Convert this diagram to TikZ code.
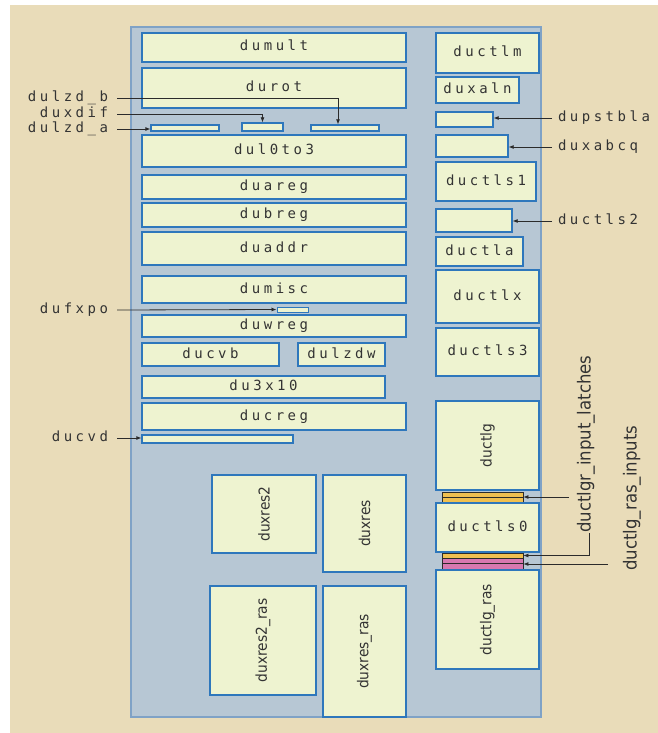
\documentclass[tikz,border=0pt]{standalone}
\usepackage{fontspec}
\usepackage{xcolor}
\usepackage{tikz}
\usetikzlibrary{arrows.meta}
\newfontfamily\blkfont[LetterSpace=25]{DejaVu Sans Mono}
\newfontfamily\rotfont[FakeStretch=0.92]{DejaVu Sans}
\definecolor{tanbg}{HTML}{E9DCB9}
\definecolor{panelfill}{HTML}{B7C7D4}
\definecolor{panelline}{HTML}{7FA2C6}
\definecolor{blkfill}{HTML}{EEF3D0}
\definecolor{blkline}{HTML}{2E77BC}
\definecolor{txtgray}{HTML}{333333}
\definecolor{latchor}{HTML}{F0C050}
\definecolor{raspk}{HTML}{D878B0}
\definecolor{leader}{HTML}{2B2B2B}

\begin{document}
\begin{tikzpicture}[
x=1pt, y=-1pt,
cell/.style n args={4}{minimum width={(#3-#1)*1pt}, minimum height={(#4-#2)*1pt},
  at={({(#1+#3)/2},{(#2+#4)/2})}},
bar/.style={draw=blkline, fill=blkfill, line width=1.3pt, inner sep=0pt},
blk/.style={bar, text=txtgray, font=\blkfont\fontsize{14}{14}\selectfont,
  text height=10pt, text depth=3pt},
rot/.style={bar, text=txtgray, font=\rotfont\fontsize{15}{15}\selectfont},
latch/.style={draw=leader, line width=0.8pt, inner sep=0pt},
lbl/.style={inner sep=0pt, text=txtgray, font=\blkfont\fontsize{14}{14}\selectfont,
  text height=10pt, text depth=3pt},
lleft/.style={lbl, anchor=east, outer xsep=9pt},
lright/.style={lbl, anchor=west, outer xsep=6pt},
lrot/.style={inner sep=0pt, text=txtgray, font=\rotfont\fontsize{18}{18}\selectfont,
  rotate=90, anchor=west},
arr/.style={-{Latex[length=5pt,width=4pt]}, draw=leader, line width=0.8pt}
]
\useasboundingbox (0,0) rectangle (658,733);
\fill[tanbg] (10,5) rectangle (658,733);
% chip outline
\filldraw[fill=panelfill, draw=panelline, line width=2pt] (131,27) rectangle (541,717);

% left column
\node[blk, cell={142}{33}{406}{62}] (dumult) {dumult};
\node[blk, cell={142}{68}{406}{108}] (durot) {durot};
\node[bar, cell={151}{125}{219}{131}] (dulzda) {};
\node[bar, cell={242}{123}{283}{131}] (duxdif) {};
\node[bar, cell={311}{125}{379}{131}] (dulzdb) {};
\node[blk, cell={142}{135}{406}{167}] (dul0to3) {dul0to3};
\node[blk, cell={142}{175}{406}{199}] (duareg) {duareg};
\node[blk, cell={142}{203}{406}{227}] (dubreg) {dubreg};
\node[blk, cell={142}{232}{406}{265}] (duaddr) {duaddr};
\node[blk, cell={142}{276}{406}{303}] (dumisc) {dumisc};
\node[bar, line width=1pt, cell={277}{307}{308}{312}] (dufxpo) {};
\node[blk, cell={142}{315}{406}{337}] (duwreg) {duwreg};
\node[blk, cell={142}{343}{279}{366}] (ducvb) {ducvb};
\node[blk, cell={298}{343}{385}{366}] (dulzdw) {dulzdw};
\node[blk, cell={142}{376}{385}{398}] (du3x10) {du3x10};
\node[blk, cell={142}{403}{406}{430}] (ducreg) {ducreg};
\node[bar, cell={142}{435}{293}{443}] (ducvd) {};
\node[rot, cell={212}{475}{316}{553}] (duxres2) {\rotatebox{90}{duxres2}};
\node[rot, cell={323}{475}{406}{572}] (duxres) {\rotatebox{90}{duxres}};
\node[rot, cell={210}{586}{316}{695}] (duxres2ras) {\rotatebox{90}{duxres2\_ras}};
\node[rot, cell={323}{586}{406}{717}] (duxresras) {\rotatebox{90}{duxres\_ras}};

% right column
\node[blk, cell={436}{33}{539}{73}] (ductlm) {ductlm};
\node[blk, cell={436}{77}{519}{103}] (duxaln) {duxaln};
\node[bar, cell={436}{112}{493}{127}] (dupstbla) {};
\node[bar, cell={436}{135}{508}{157}] (duxabcq) {};
\node[blk, cell={436}{162}{536}{201}] (ductls1) {ductls1};
\node[bar, cell={436}{209}{512}{232}] (ductls2) {};
\node[blk, cell={436}{237}{523}{266}] (ductla) {ductla};
\node[blk, cell={436}{270}{539}{323}] (ductlx) {ductlx};
\node[blk, cell={436}{328}{539}{376}] (ductls3) {ductls3};
\node[rot, cell={436}{401}{539}{490}] (ductlg) {\rotatebox{90}{ductlg}};
\node[latch, fill=latchor, cell={442}{492}{523}{502}] (grlatch) {};
\draw[leader, line width=0.8pt] (grlatch.west) -- (grlatch.east);
\node[blk, cell={436}{503}{539}{552}] (ductls0) {ductls0};
\node[latch, fill=latchor, cell={442}{553}{523}{558}] (rasor) {};
\node[latch, fill=raspk, cell={442}{558}{523}{569}] (raspink) {};
\draw[leader, line width=0.8pt] (raspink.west) -- (raspink.east);
\node[rot, cell={436}{570}{539}{669}] (ductlgras) {\rotatebox{90}{ductlg\_ras}};

% labels left
\node[lleft] at (117,98) (lbzdb) {dulzd\_b};
\node[lleft] at (117,114) (lbxdif) {duxdif};
\node[lleft] at (117,129) (lbzda) {dulzd\_a};
\node[lleft] at (117,310) (lbfxpo) {dufxpo};
\node[lleft] at (117,438) (lbcvd) {ducvd};
\draw[arr] (lbzdb.east) -| ([xshift=-7pt]dulzdb.north);
\draw[arr] (lbxdif.east) -| (duxdif.north);
\draw[arr] (lbzda.east) -- (lbzda.east -| dulzda.west);
\draw[arr] (lbfxpo.east) -- (dufxpo.west);
\draw[arr] (lbcvd.east) -- (lbcvd.east -| ducvd.west);

% labels right
\node[lright] at (552,118) (lbpstbla) {dupstbla};
\node[lright] at (552,147) (lbxabcq) {duxabcq};
\node[lright] at (552,221) (lbtls2) {ductls2};
\draw[arr] (lbpstbla.west) -- (lbpstbla.west -| dupstbla.east);
\draw[arr] (lbxabcq.west) -- (lbxabcq.west -| duxabcq.east);
\draw[arr] (lbtls2.west) -- (lbtls2.west -| ductls2.east);

\node[lrot] at (586,533) (lbinlat) {ductlgr\_input\_latches};
\node[lrot] at (632,571) (lbrasin) {ductlg\_ras\_inputs};
\coordinate (latchtip) at (569,497);
\coordinate (rastip) at (608,564);
\draw[arr] (latchtip) -- (grlatch.east);
\draw[arr] ([xshift=3pt]lbinlat.west) |- (rasor.east);
\draw[arr] (rastip) -- (rastip -| raspink.east);
\end{tikzpicture}
\end{document}
